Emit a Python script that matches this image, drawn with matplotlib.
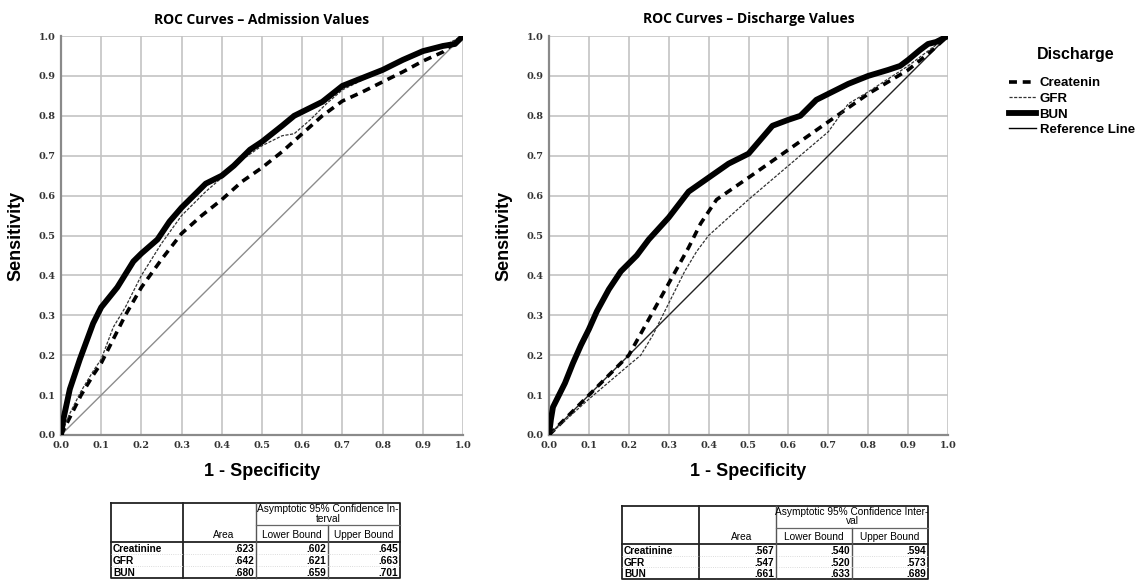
import numpy as np
import matplotlib.pyplot as plt
from matplotlib.lines import Line2D

# ---- ROC curves ----
# admission values
adm_bun_fpr = [0, 0.006, 0.022, 0.047, 0.08, 0.1, 0.12, 0.14, 0.18, 0.2, 0.24, 0.27, 0.3, 0.33, 0.36,
               0.4, 0.43, 0.47, 0.5, 0.55, 0.58, 0.62, 0.65, 0.7, 0.75, 0.8, 0.85, 0.9, 0.95, 0.98, 1.0]
adm_bun_tpr = [0, 0.04, 0.115, 0.19, 0.28, 0.32, 0.345, 0.37, 0.435, 0.455, 0.49, 0.535, 0.57, 0.60, 0.63,
               0.65, 0.675, 0.715, 0.735, 0.775, 0.80, 0.82, 0.835, 0.875, 0.895, 0.915, 0.94, 0.962, 0.975, 0.98, 1.0]
adm_gfr_fpr = [0, 0.02, 0.05, 0.08, 0.1, 0.13, 0.16, 0.2, 0.25, 0.3, 0.36, 0.4, 0.45, 0.5, 0.55, 0.58,
               0.62, 0.66, 0.7, 0.75, 0.8, 0.85, 0.9, 0.95, 1.0]
adm_gfr_tpr = [0, 0.05, 0.11, 0.16, 0.19, 0.27, 0.32, 0.40, 0.48, 0.55, 0.61, 0.645, 0.69, 0.725, 0.75, 0.755,
               0.79, 0.83, 0.865, 0.89, 0.915, 0.94, 0.96, 0.975, 1.0]
adm_cre_fpr = [0, 0.02, 0.05, 0.08, 0.1, 0.13, 0.16, 0.2, 0.25, 0.3, 0.35, 0.4, 0.45, 0.5, 0.55, 0.6,
               0.65, 0.7, 0.75, 0.8, 0.85, 0.9, 0.95, 1.0]
adm_cre_tpr = [0, 0.04, 0.10, 0.15, 0.18, 0.24, 0.30, 0.37, 0.44, 0.505, 0.55, 0.59, 0.635, 0.67, 0.71, 0.755,
               0.80, 0.837, 0.86, 0.885, 0.91, 0.937, 0.96, 1.0]

# discharge values
dis_bun_fpr = [0, 0.005, 0.01, 0.02, 0.04, 0.06, 0.08, 0.1, 0.12, 0.15, 0.18, 0.2, 0.22, 0.25, 0.3, 0.35,
               0.4, 0.45, 0.5, 0.53, 0.56, 0.6, 0.63, 0.67, 0.7, 0.75, 0.8, 0.85, 0.88, 0.9, 0.93, 0.95, 0.97, 1.0]
dis_bun_tpr = [0, 0.04, 0.07, 0.09, 0.13, 0.18, 0.225, 0.265, 0.31, 0.365, 0.41, 0.43, 0.45, 0.49, 0.545, 0.61,
               0.645, 0.68, 0.705, 0.74, 0.775, 0.79, 0.80, 0.84, 0.855, 0.88, 0.90, 0.915, 0.925, 0.94, 0.965, 0.98, 0.985, 1.0]
dis_gfr_fpr = [0, 0.1, 0.2, 0.23, 0.26, 0.3, 0.34, 0.37, 0.4, 0.5, 0.6, 0.7, 0.75, 0.8, 0.9, 1.0]
dis_gfr_tpr = [0, 0.09, 0.175, 0.20, 0.25, 0.33, 0.41, 0.46, 0.50, 0.59, 0.675, 0.76, 0.83, 0.86, 0.925, 1.0]
dis_cre_fpr = [0, 0.1, 0.2, 0.25, 0.3, 0.35, 0.38, 0.42, 0.5, 0.6, 0.7, 0.8, 0.9, 0.95, 1.0]
dis_cre_tpr = [0, 0.10, 0.20, 0.29, 0.38, 0.47, 0.53, 0.59, 0.645, 0.715, 0.785, 0.855, 0.915, 0.955, 1.0]

ref_line = [0, 1]

# ---- AUC tables ----
row_names = ["Creatinine", "GFR", "BUN"]
adm_area = [".623", ".642", ".680"]
adm_lower = [".602", ".621", ".659"]
adm_upper = [".645", ".663", ".701"]
dis_area = [".567", ".547", ".661"]
dis_lower = [".540", ".520", ".633"]
dis_upper = [".594", ".573", ".689"]

ticks = np.round(np.arange(0, 1.01, 0.1), 1)
tick_labels = [f"{t:.1f}" for t in ticks]

W, H = 1148, 580
fig = plt.figure(figsize=(W / 100, H / 100), dpi=100)

styles = {
    "cre": dict(color="black", lw=2.6, dashes=(2.2, 1.6)),
    "gfr": dict(color="#333333", lw=0.9, dashes=(2.5, 1.2)),
    "bun": dict(color="black", lw=4.2, solid_capstyle="round"),
}


def roc_panel(rect, title, cre, gfr, bun, ref_color):
    ax = fig.add_axes(rect)
    ax.plot(ref_line, ref_line, color=ref_color, lw=1.0, zorder=2)
    ax.plot(cre[0], cre[1], zorder=3, **styles["cre"])
    ax.plot(gfr[0], gfr[1], zorder=4, **styles["gfr"])
    ax.plot(bun[0], bun[1], zorder=5, **styles["bun"])
    ax.set_xlim(0, 1)
    ax.set_ylim(0, 1)
    ax.set_xticks(ticks)
    ax.set_yticks(ticks)
    ax.set_xticklabels(tick_labels, family="DejaVu Serif", fontsize=7, fontweight="bold")
    ax.set_yticklabels(tick_labels, family="DejaVu Serif", fontsize=7, fontweight="bold")
    ax.tick_params(length=0, pad=4, colors="#333333")
    ax.grid(True, color="#c4c4c4", lw=1.2)
    ax.set_axisbelow(True)
    for s in ["top", "right"]:
        ax.spines[s].set_visible(False)
    for s in ["left", "bottom"]:
        ax.spines[s].set_color("#8a8a8a")
        ax.spines[s].set_linewidth(1.6)
    ax.set_title(title, family="Open Sans", fontweight="bold", fontsize=10, pad=9)
    ax.set_xlabel("1 - Specificity", family="Liberation Sans", fontweight="bold", fontsize=13, labelpad=10)
    ax.set_ylabel("Sensitivity", family="Liberation Sans", fontweight="bold", fontsize=13, labelpad=10)
    return ax


roc_panel([61 / W, 1 - 435 / H, 402 / W, 399 / H], "ROC Curves – Admission Values",
          (adm_cre_fpr, adm_cre_tpr), (adm_gfr_fpr, adm_gfr_tpr), (adm_bun_fpr, adm_bun_tpr), "#8c8c8c")
roc_panel([549 / W, 1 - 435 / H, 399 / W, 399 / H], "ROC Curves – Discharge Values",
          (dis_cre_fpr, dis_cre_tpr), (dis_gfr_fpr, dis_gfr_tpr), (dis_bun_fpr, dis_bun_tpr), "#222222")

handles = [
    Line2D([], [], **styles["cre"]),
    Line2D([], [], **styles["gfr"]),
    Line2D([], [], color="black", lw=4.2),
    Line2D([], [], color="black", lw=1.0),
]
fig.text(1037 / W, 1 - 55 / H, "Discharge", family="Liberation Sans", fontweight="bold",
         fontsize=11.5, ha="left", va="center")
fig.legend(handles, ["Createnin", "GFR", "BUN", "Reference Line"],
           loc="upper left", bbox_to_anchor=(1000 / W, 1 - 68 / H), frameon=False,
           handlelength=2.0, handletextpad=0.3, labelspacing=0.25, borderpad=0.2,
           prop=dict(family="Liberation Sans", weight="bold", size=9.5))

# ---- tables, drawn on an overlay in pixel space ----
tab = fig.add_axes([0, 0, 1, 1])
tab.set_xlim(0, W)
tab.set_ylim(H, 0)
tab.axis("off")
tfont = dict(family="Liberation Sans", fontsize=7.3)


def auc_table(cols, top, split, head, bottom, header, area, lower, upper):
    c0, c1, c2, c3, c4 = cols
    dark = dict(color="#222222", lw=1.3)
    tab.plot([c0, c4, c4, c0, c0], [top, top, bottom, bottom, top], **dark)
    tab.plot([c1, c1], [top, bottom], **dark)
    tab.plot([c0, c4], [head, head], **dark)
    tab.plot([c2, c2], [top, bottom], color="#555555", lw=1.0)
    tab.plot([c3, c3], [split, bottom], color="#555555", lw=1.0)
    tab.plot([c2, c4], [split, split], color="#666666", lw=0.9)
    rh = (bottom - head) / 3
    for i in range(1, 3):
        tab.plot([c0, c4], [head + i * rh] * 2, color="#d0d0d0", lw=0.6, ls=":")
    tab.text((c2 + c4) / 2, top + 6, header[0], ha="center", va="center", **tfont)
    tab.text((c2 + c4) / 2, top + 15.5, header[1], ha="center", va="center", **tfont)
    hy = (split + head) / 2 + 1
    tab.text((c1 + c2) / 2 + 4, hy, "Area", ha="center", va="center", **tfont)
    tab.text((c2 + c3) / 2, hy, "Lower Bound", ha="center", va="center", **tfont)
    tab.text((c3 + c4) / 2, hy, "Upper Bound", ha="center", va="center", **tfont)
    for i, name in enumerate(row_names):
        y = head + (i + 0.5) * rh + 1
        tab.text(c0 + 2, y, name, ha="left", va="center", fontweight="bold", **tfont)
        tab.text(c2 - 2, y, area[i], ha="right", va="center", fontweight="bold", **tfont)
        tab.text(c3 - 2, y, lower[i], ha="right", va="center", fontweight="bold", **tfont)
        tab.text(c4 - 2, y, upper[i], ha="right", va="center", fontweight="bold", **tfont)


auc_table([111, 183, 256, 328, 400], 503, 525, 542, 578,
          ["Asymptotic 95% Confidence In-", "terval"], adm_area, adm_lower, adm_upper)
auc_table([622, 699, 776, 852, 928], 506, 528, 544, 579,
          ["Asymptotic 95% Confidence Inter-", "val"], dis_area, dis_lower, dis_upper)

fig.savefig("out.png", dpi=100)
